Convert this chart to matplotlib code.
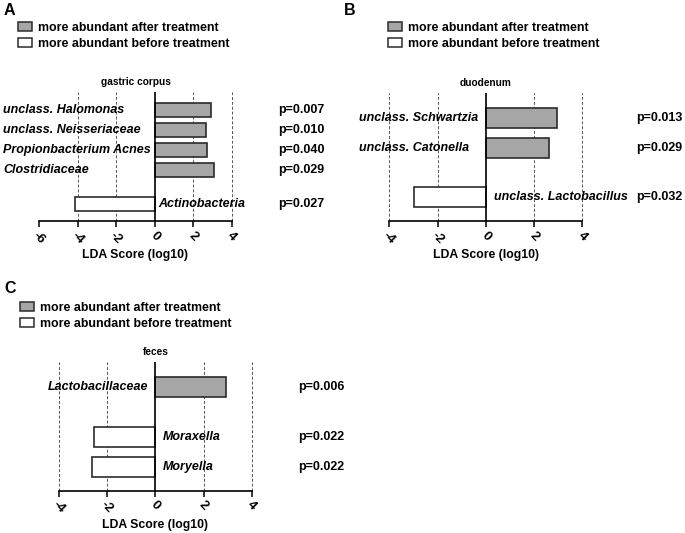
"""LEfSe LDA score panels (gastric corpus, duodenum, feces)."""

import matplotlib

matplotlib.use("Agg")

import matplotlib.pyplot as plt
from matplotlib.patches import Patch
from matplotlib.transforms import blended_transform_factory

plt.rcParams["font.family"] = ["Liberation Sans", "DejaVu Sans"]
plt.rcParams["font.weight"] = "bold"

AFTER_COLOR = "#a6a6a6"
BEFORE_COLOR = "#ffffff"
EDGE = "#2b2b2b"

# panel A - gastric corpus
corpus_taxa = [
    "unclass. Halomonas",
    "unclass. Neisseriaceae",
    "Propionbacterium Acnes",
    "Clostridiaceae",
    "Actinobacteria",
]
corpus_lda = [2.9, 2.67, 2.68, 3.07, -4.14]
corpus_p = ["p=0.007", "p=0.010", "p=0.040", "p=0.029", "p=0.027"]

# panel B - duodenum
duod_taxa = ["unclass. Schwartzia", "unclass. Catonella", "unclass. Lactobacillus"]
duod_lda = [2.97, 2.61, -2.99]
duod_p = ["p=0.013", "p=0.029", "p=0.032"]

# panel C - feces
feces_taxa = ["Lactobacillaceae", "Moraxella", "Moryella"]
feces_lda = [2.92, -2.54, -2.64]
feces_p = ["p=0.006", "p=0.022", "p=0.022"]

W, H = 685, 533
LABEL_SIZE = 9.0


def px_rect(left, right, top, bottom):
    return [left / W, 1 - bottom / H, (right - left) / W, (bottom - top) / H]


def panel(fig, rect, taxa, lda, pvals, rows, height, ylim, xlim, ticks, grid,
          title, left_x, neg_dx, p_x, letter, letter_xy, legend_xy):
    ax = fig.add_axes(rect)
    colors = [AFTER_COLOR if v > 0 else BEFORE_COLOR for v in lda]
    ax.barh(rows, lda, height=height, color=colors, edgecolor=EDGE,
            linewidth=1.2, zorder=3)
    ax.set_xlim(*xlim)
    ax.set_ylim(*ylim)
    ax.set_yticks([])
    ax.set_xticks(ticks)
    ax.set_xticklabels([str(t) for t in ticks], rotation=-45,
                       ha="center", va="top", fontsize=9.5)
    ax.tick_params(axis="x", direction="out", length=4, width=1.1, pad=2)
    for side in ("top", "right", "left"):
        ax.spines[side].set_visible(False)
    ax.spines["bottom"].set_linewidth(1.2)
    ax.spines["bottom"].set_zorder(5)
    ax.axvline(0, color="black", lw=1.2, zorder=4)
    for g in grid:
        ax.axvline(g, color="#555555", lw=0.7, ls=(0, (3, 2)), zorder=1,
                   clip_on=False)
    ax.set_title(title, fontsize=7.3, fontweight="bold", pad=5)
    ax.set_xlabel("LDA Score (log10)", fontsize=8.8, fontweight="bold",
                  labelpad=2)

    tr = blended_transform_factory(ax.transAxes, ax.transData)
    for name, val, p, y in zip(taxa, lda, pvals, rows):
        if val > 0:
            ax.text(left_x, y, name, transform=tr, ha="left", va="center",
                    fontsize=LABEL_SIZE, fontweight="bold", style="italic")
        else:
            ax.text(neg_dx, y, name, ha="left", va="center",
                    fontsize=LABEL_SIZE, fontweight="bold", style="italic")
        ax.text(p_x, y, p, transform=tr, ha="left", va="center",
                fontsize=LABEL_SIZE, fontweight="bold")

    fig.text(letter_xy[0] / W, 1 - letter_xy[1] / H, letter, fontsize=11.5,
             fontweight="bold", ha="left", va="top")
    handles = [
        Patch(facecolor=AFTER_COLOR, edgecolor=EDGE, lw=1.1,
              label="more abundant after treatment"),
        Patch(facecolor=BEFORE_COLOR, edgecolor=EDGE, lw=1.1,
              label="more abundant before treatment"),
    ]
    fig.legend(handles=handles, loc="upper left", frameon=False,
               bbox_to_anchor=(legend_xy[0] / W, 1 - legend_xy[1] / H),
               borderaxespad=0, borderpad=0,
               handlelength=1.1, handleheight=0.72, handletextpad=0.55,
               labelspacing=0.3, prop={"weight": "bold", "size": 8.9})
    return ax


fig = plt.figure(figsize=(W / 100, H / 100), dpi=100)

panel(fig, px_rect(39, 232, 92, 221), corpus_taxa, corpus_lda, corpus_p,
      rows=[0, 1, 2, 3, 4.7], height=0.7, ylim=(5.55, -0.9), xlim=(-6, 4),
      ticks=[-6, -4, -2, 0, 2, 4], grid=[-4, -2, 2, 4], title="gastric corpus",
      left_x=-0.186, neg_dx=0.2, p_x=1.238,
      letter="A", letter_xy=(4, 3), legend_xy=(18, 22))

panel(fig, px_rect(389.3, 582.3, 93, 221), duod_taxa, duod_lda, duod_p,
      rows=[0, 1, 2.63], height=0.67, ylim=(3.43, -0.83), xlim=(-4, 4),
      ticks=[-4, -2, 0, 2, 4], grid=[-4, -2, 2, 4], title="duodenum",
      left_x=-0.157, neg_dx=0.33, p_x=1.278,
      letter="B", letter_xy=(344, 3), legend_xy=(388, 22))

panel(fig, px_rect(59, 251.7, 361.7, 490.7), feces_taxa, feces_lda, feces_p,
      rows=[0, 1.67, 2.67], height=0.67, ylim=(3.47, -0.83), xlim=(-4, 4),
      ticks=[-4, -2, 0, 2, 4], grid=[-4, -2, 2, 4], title="feces",
      left_x=-0.057, neg_dx=0.32, p_x=1.24,
      letter="C", letter_xy=(4, 281), legend_xy=(20, 302))

fig.savefig("out.png", dpi=100)
